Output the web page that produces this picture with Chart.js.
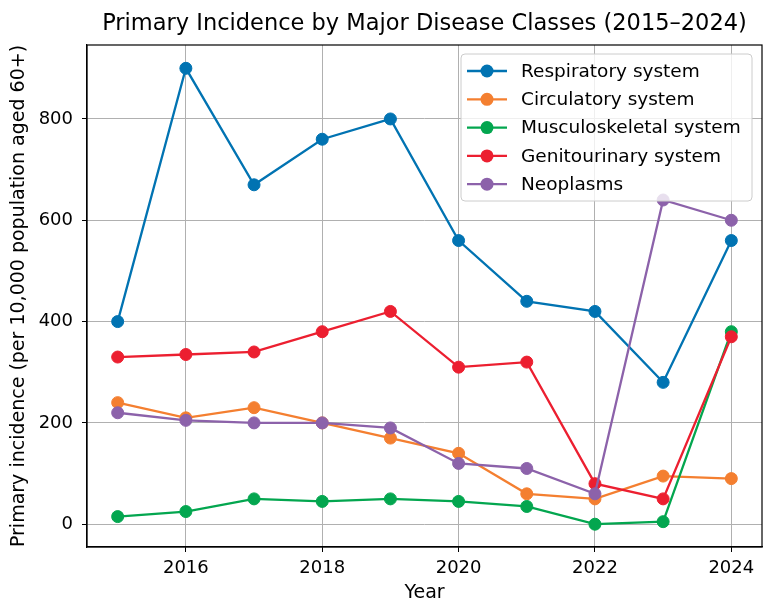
<!DOCTYPE html>
<html lang="en">
<head>
    <meta charset="UTF-8">
    <title>Primary Incidence by Major Disease Classes</title>
    <style>
        html, body {
            margin: 0;
            padding: 0;
            overflow: hidden;
            background-color: #fff;
        }
        canvas {
            display: block;
        }
    </style>
    <script src="https://cdn.jsdelivr.net/npm/chart.js"></script>
</head>
<body>
    <canvas id="lineChart" width="763" height="604"></canvas>
    <script>
        const years = [2015, 2016, 2017, 2018, 2019, 2020, 2021, 2022, 2023, 2024];
        const seriesNames = ['Respiratory system', 'Circulatory system', 'Musculoskeletal system', 'Genitourinary system', 'Neoplasms'];
        const respiratory = [400, 900, 670, 760, 800, 560, 440, 420, 280, 560];
        const circulatory = [240, 210, 230, 200, 170, 140, 60, 50, 95, 90];
        const musculoskeletal = [15, 25, 50, 45, 50, 45, 35, 0, 5, 380];
        const genitourinary = [330, 335, 340, 380, 420, 310, 320, 80, 50, 370];
        const neoplasms = [220, 205, 200, 200, 190, 120, 110, 60, 640, 600];
        const colors = ['#0173b2', '#f47f30', '#03a64f', '#ec1f30', '#8c62aa'];
        const xTicks = [2016, 2018, 2020, 2022, 2024];
        const yTicks = [0, 200, 400, 600, 800];

        const font = 'DejaVu Sans';
        const allSeries = [respiratory, circulatory, musculoskeletal, genitourinary, neoplasms];

        const datasets = allSeries.map(function(vals, i) {
            return {
                label: seriesNames[i],
                data: vals.map(function(v, j) { return { x: years[j], y: v }; }),
                borderColor: colors[i],
                backgroundColor: colors[i],
                pointBackgroundColor: colors[i],
                pointBorderColor: colors[i],
                pointRadius: 6,
                pointHoverRadius: 6,
                pointBorderWidth: 1,
                borderWidth: 2.3,
                fill: false,
                tension: 0,
                clip: false,
                order: allSeries.length - i   // later series drawn on top, like matplotlib
            };
        });

        // full box round the plot area (matplotlib spines)
        const frame = {
            id: 'frame',
            afterDatasetsDraw(chart) {
                const a = chart.chartArea;
                const ctx = chart.ctx;
                ctx.save();
                ctx.strokeStyle = '#000';
                ctx.lineWidth = 1.2;
                ctx.strokeRect(a.left, a.top, a.right - a.left, a.bottom - a.top);
                ctx.restore();
            }
        };

        // matplotlib-like legend: line + marker, box in upper right
        const mplLegend = {
            id: 'mplLegend',
            afterDraw(chart) {
                const ctx = chart.ctx;
                const area = chart.chartArea;
                const boxW = 291, rowH = 28.3;
                const boxH = 147;
                const bx = area.right - boxW - 10;
                const by = area.top + 9;
                ctx.save();
                ctx.beginPath();
                ctx.roundRect(bx, by, boxW, boxH, 4);
                ctx.fillStyle = 'rgba(255,255,255,0.8)';
                ctx.fill();
                ctx.strokeStyle = '#cccccc';
                ctx.lineWidth = 1;
                ctx.stroke();
                ctx.font = '18.5px "' + font + '"';
                ctx.textBaseline = 'middle';
                seriesNames.forEach(function(name, i) {
                    const cy = by + 17 + i * rowH;
                    ctx.strokeStyle = colors[i];
                    ctx.lineWidth = 2.3;
                    ctx.beginPath();
                    ctx.moveTo(bx + 6, cy);
                    ctx.lineTo(bx + 46, cy);
                    ctx.stroke();
                    ctx.fillStyle = colors[i];
                    ctx.beginPath();
                    ctx.arc(bx + 26, cy, 6.5, 0, Math.PI * 2);
                    ctx.fill();
                    ctx.fillStyle = '#000';
                    ctx.fillText(name, bx + 60, cy + 1);
                });
                ctx.restore();
            }
        };

        new Chart(document.getElementById('lineChart').getContext('2d'), {
            type: 'line',
            data: { datasets: datasets },
            options: {
                responsive: false,
                animation: false,
                layout: { autoPadding: false, padding: { left: 0, right: 1, top: 0, bottom: 0 } },
                plugins: {
                    legend: { display: false },
                    tooltip: { enabled: false },
                    title: {
                        display: true,
                        fullSize: false,
                        text: 'Primary Incidence by Major Disease Classes (2015\u20132024)',
                        color: '#000',
                        font: { family: font, size: 22.5, weight: 'normal' },
                        padding: { top: 11, bottom: 7 }
                    }
                },
                scales: {
                    x: {
                        type: 'linear',
                        min: 2014.55,
                        max: 2024.45,
                        afterBuildTicks(axis) {
                            axis.ticks = xTicks.map(function(v) { return { value: v }; });
                        },
                        afterFit(axis) {
                            axis.height = 57;
                            axis.paddingLeft = 0;
                            axis.paddingRight = 0;
                        },
                        ticks: {
                            color: '#000',
                            padding: 6,
                            maxRotation: 0,
                            font: { family: font, size: 18 },
                            callback: function(v) { return String(v); }
                        },
                        grid: { color: '#b0b0b0', lineWidth: 1, tickLength: 5, tickColor: '#000' },
                        border: { color: '#000', width: 1.2 },
                        title: {
                            display: true,
                            text: 'Year',
                            color: '#000',
                            font: { family: font, size: 19 },
                            padding: { top: 0, bottom: 0 }
                        }
                    },
                    y: {
                        min: -45,
                        max: 946,
                        afterBuildTicks(axis) {
                            axis.ticks = yTicks.map(function(v) { return { value: v }; });
                        },
                        afterFit(axis) {
                            axis.width = 87;
                            axis.paddingTop = 0;
                            axis.paddingBottom = 0;
                        },
                        ticks: {
                            color: '#000',
                            padding: 9,
                            font: { family: font, size: 18 }
                        },
                        grid: { color: '#b0b0b0', lineWidth: 1, tickLength: 5, tickColor: '#000' },
                        border: { color: '#000', width: 1.2 },
                        title: {
                            display: true,
                            text: 'Primary incidence (per 10,000 population aged 60+)',
                            color: '#000',
                            font: { family: font, size: 19 },
                            padding: { top: 8, bottom: 0 }
                        }
                    }
                }
            },
            plugins: [frame, mplLegend]
        });
    </script>
</body>
</html>
